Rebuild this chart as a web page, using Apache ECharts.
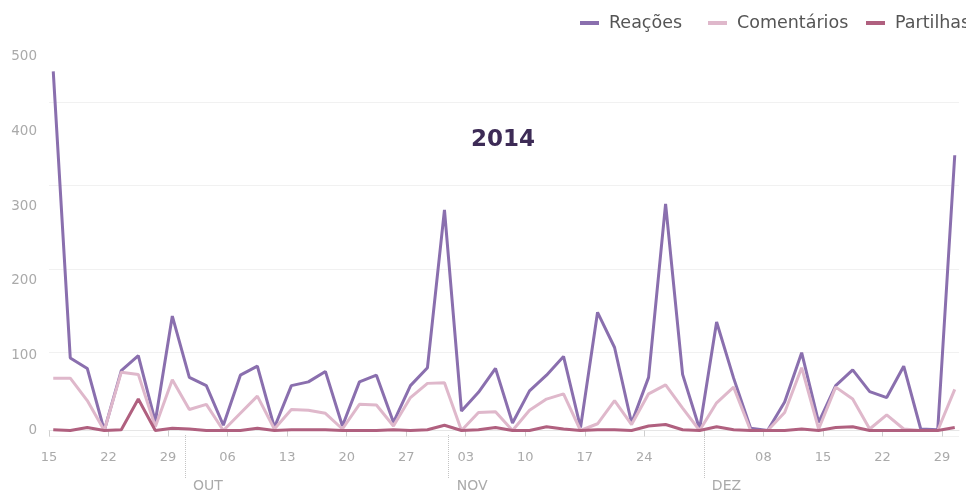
<!DOCTYPE html>
<html lang="pt">
<head>
    <meta charset="UTF-8">
    <title>2014</title>
    <style>
        html, body { margin: 0; padding: 0; background: #fff; }
        #root { width: 966px; height: 493px; }
    </style>
</head>
<body>
    <div id="root"></div>
    <script src="https://cdn.jsdelivr.net/npm/echarts@6/dist/echarts.min.js"></script>
    <script>
        // one point every two days
        var dates = [
            '2014-09-15', '2014-09-17', '2014-09-19', '2014-09-21', '2014-09-23', '2014-09-25', '2014-09-27', '2014-09-29',
            '2014-10-01', '2014-10-03', '2014-10-05', '2014-10-07', '2014-10-09', '2014-10-11', '2014-10-13', '2014-10-15',
            '2014-10-17', '2014-10-19', '2014-10-21', '2014-10-23', '2014-10-25', '2014-10-27', '2014-10-29', '2014-10-31',
            '2014-11-02', '2014-11-04', '2014-11-06', '2014-11-08', '2014-11-10', '2014-11-12', '2014-11-14', '2014-11-16',
            '2014-11-18', '2014-11-20', '2014-11-22', '2014-11-24', '2014-11-26', '2014-11-28', '2014-11-30',
            '2014-12-02', '2014-12-04', '2014-12-06', '2014-12-08', '2014-12-10', '2014-12-12', '2014-12-14', '2014-12-16',
            '2014-12-18', '2014-12-20', '2014-12-22', '2014-12-24', '2014-12-26', '2014-12-28', '2014-12-30'
        ];
        var reacoes = [480, 97, 83, 0, 80, 100, 12, 153, 71, 60, 7, 74, 86, 4, 60, 65,
            79, 6, 65, 74, 11, 60, 84, 295, 26, 51, 83, 10, 53, 74, 99, 4,
            158, 111, 10, 71, 303, 75, 2, 145, 70, 3, 0, 38, 104, 11, 60, 81,
            52, 44, 86, 2, 1, 368];
        var comentarios = [70, 70, 40, 0, 78, 75, 5, 68, 28, 35, 0, 23, 46, 2, 28, 27,
            23, 2, 35, 34, 6, 44, 63, 64, 0, 24, 25, 0, 27, 42, 49, 0,
            9, 40, 8, 49, 61, 30, 0, 37, 58, 0, 0, 24, 84, 2, 58, 42,
            2, 21, 2, 0, 0, 55];
        var partilhas = [1, 0, 4, 0, 1, 42, 0, 3, 2, 0, 0, 0, 3, 0, 1, 1,
            1, 0, 0, 0, 1, 0, 1, 7, 0, 1, 4, 0, 0, 5, 2, 0,
            1, 1, 0, 6, 8, 1, 0, 5, 1, 0, 0, 0, 2, 0, 4, 5,
            0, 0, 0, 0, 0, 4];
        var weekTicks = ['2014-09-15', '2014-09-22', '2014-09-29', '2014-10-06', '2014-10-13', '2014-10-20',
            '2014-10-27', '2014-11-03', '2014-11-10', '2014-11-17', '2014-11-24', '2014-12-01',
            '2014-12-08', '2014-12-15', '2014-12-22', '2014-12-29'];
        var monthStarts = ['2014-10-01', '2014-11-01', '2014-12-01'];
        var monthNames = ['OUT', 'NOV', 'DEZ'];
        var seriesNames = ['Reações', 'Comentários', 'Partilhas'];
        var colors = ['#8a6fae', '#dfb8cb', '#b0607f'];

        var DAY = 24 * 3600 * 1000;
        var ts = function (d) { return Date.parse(d); };
        var xMin = ts('2014-09-15');
        var xMax = ts('2014-12-31');
        var monthVals = monthStarts.map(ts);
        // Dec 1 tick has no label in the reference
        var weekVals = weekTicks.map(ts);
        var weekLabelVals = weekVals.filter(function (v) { return v !== ts('2014-12-01'); });

        function pts(values) {
            return dates.map(function (d, i) { return [ts(d) + DAY / 2, values[i]]; });
        }
        function pad2(n) { return (n < 10 ? '0' : '') + n; }

        var font = 'DejaVu Sans';
        var legends = [575, 703, 861].map(function (x, i) {
            return {
                left: x, top: 9, itemWidth: 19, itemHeight: 4, icon: 'rect',
                data: [seriesNames[i]],
                textStyle: { fontFamily: font, fontSize: 17.5, color: '#555', padding: [0, 0, 0, 5] }
            };
        });

        var option = {
            animation: false,
            title: {
                text: '2014', left: 466, top: 124,
                textStyle: { fontFamily: font, fontSize: 23, fontWeight: 'bold', color: '#3d2b56' }
            },
            legend: legends,
            grid: [
                { left: 49, right: 7, top: 56.5, bottom: 61.5 },
                { left: 49, right: 7, top: 102, bottom: 57 }
            ],
            xAxis: [
                {
                    type: 'value', gridIndex: 0, position: 'bottom', offset: 4.5,
                    min: xMin, max: xMax,
                    axisLine: { show: true, lineStyle: { color: '#e6e6e6', width: 1 } },
                    axisTick: { show: true, length: 6, customValues: weekVals, lineStyle: { color: '#cfcfcf' } },
                    axisLabel: {
                        customValues: weekLabelVals, margin: 16,
                        fontFamily: font, fontSize: 13, color: '#aaa',
                        formatter: function (v) { return pad2(new Date(v).getUTCDate()); }
                    },
                    splitLine: { show: false }
                },
                {
                    type: 'value', gridIndex: 0, position: 'bottom', offset: 4.5,
                    min: xMin, max: xMax,
                    axisLine: { show: false },
                    axisTick: { show: true, length: 43, customValues: monthVals, lineStyle: { color: '#c4c4c4', type: 'dotted' } },
                    axisLabel: {
                        customValues: monthVals, margin: 44, align: 'left', padding: [0, 0, 0, 8],
                        fontFamily: font, fontSize: 14, color: '#aaa',
                        formatter: function (v) { return monthNames[monthVals.indexOf(v)]; }
                    },
                    splitLine: { show: false }
                },
                { type: 'value', gridIndex: 1, show: false, min: 0, max: 1 }
            ],
            yAxis: [
                {
                    type: 'value', gridIndex: 0, min: 0, max: 500, interval: 100,
                    axisLine: { show: false }, axisTick: { show: false },
                    axisLabel: { margin: 12, fontFamily: font, fontSize: 13.5, color: '#aaa' },
                    splitLine: { show: false }
                },
                {
                    type: 'value', gridIndex: 1, min: 0, max: 4, interval: 1,
                    axisLine: { show: false }, axisTick: { show: false }, axisLabel: { show: false },
                    splitLine: { show: true, lineStyle: { color: '#f1f1f1', width: 1 } }
                }
            ],
            series: [reacoes, comentarios, partilhas].map(function (vals, i) {
                return {
                    name: seriesNames[i], type: 'line', xAxisIndex: 0, yAxisIndex: 0,
                    data: pts(vals), showSymbol: false, symbol: 'none',
                    color: colors[i],
                    lineStyle: { width: 3, color: colors[i] }
                };
            })
        };

        var instance = echarts.init(document.getElementById('root'));
        instance.setOption(option);
    </script>
</body>
</html>
